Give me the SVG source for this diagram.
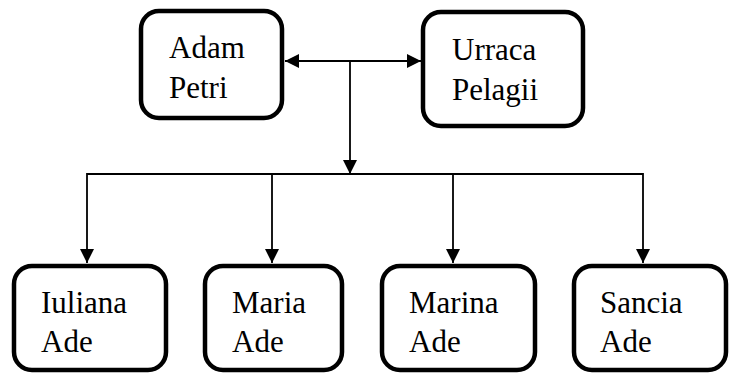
<svg xmlns="http://www.w3.org/2000/svg" width="736" height="374" viewBox="0 0 736 374">
<defs>
<style>
.box{fill:#fff;stroke:#000;stroke-width:4.5}
.t{font-family:'Liberation Serif','Times New Roman',Times,serif;font-size:31px;fill:#000}
.ln{fill:none;stroke:#000;stroke-width:1.8}
</style>
<marker id="ah" viewBox="0 0 14 14" refX="14" refY="7" markerWidth="14" markerHeight="14" markerUnits="userSpaceOnUse" orient="auto-start-reverse">
<path d="M0,0 L14,7 L0,14 Z" fill="#000"/>
</marker>
</defs>
<rect width="736" height="374" fill="#fff"/>
<g id="connectors">
<line class="ln" x1="285" y1="61" x2="421" y2="61" marker-start="url(#ah)" marker-end="url(#ah)"/>
<line class="ln" x1="350" y1="61" x2="350" y2="174" marker-end="url(#ah)"/>
<polyline class="ln" points="87,263 87,174 643,174 643,263" marker-start="url(#ah)" marker-end="url(#ah)"/>
<line class="ln" x1="272" y1="174" x2="272" y2="263" marker-end="url(#ah)"/>
<line class="ln" x1="453" y1="174" x2="453" y2="263" marker-end="url(#ah)"/>
</g>
<g id="adam">
<rect class="box" x="141" y="11" width="141" height="107" rx="18"/>
<text class="t" x="169" y="58">Adam</text>
<text class="t" x="169" y="98">Petri</text>
</g>
<g id="urraca">
<rect class="box" x="423" y="12" width="160" height="114" rx="18"/>
<text class="t" x="452" y="60">Urraca</text>
<text class="t" x="452" y="100">Pelagii</text>
</g>
<g id="iuliana">
<rect class="box" x="14" y="266" width="152" height="104" rx="18"/>
<text class="t" x="41" y="313">Iuliana</text>
<text class="t" x="41" y="352">Ade</text>
</g>
<g id="maria">
<rect class="box" x="205" y="266" width="137" height="104" rx="18"/>
<text class="t" x="232" y="313">Maria</text>
<text class="t" x="232" y="352">Ade</text>
</g>
<g id="marina">
<rect class="box" x="382" y="266" width="153" height="104" rx="18"/>
<text class="t" x="409" y="313">Marina</text>
<text class="t" x="409" y="352">Ade</text>
</g>
<g id="sancia">
<rect class="box" x="574" y="266" width="152" height="104" rx="18"/>
<text class="t" x="600" y="313">Sancia</text>
<text class="t" x="600" y="352">Ade</text>
</g>
</svg>
